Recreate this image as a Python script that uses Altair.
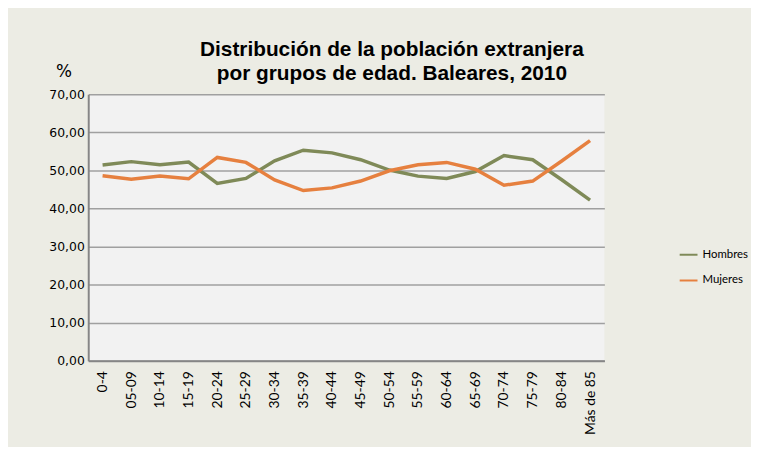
import altair as alt
import pandas as pd

grupos = ["0-4", "05-09", "10-14", "15-19", "20-24", "25-29", "30-34", "35-39",
          "40-44", "45-49", "50-54", "55-59", "60-64", "65-69", "70-74", "75-79",
          "80-84", "Más de 85"]
hombres = [51.4, 52.3, 51.5, 52.2, 46.6, 47.9, 52.5, 55.3, 54.6, 52.8, 50.1,
           48.5, 47.9, 49.7, 53.9, 52.8, 47.6, 42.2]
mujeres = [48.6, 47.7, 48.5, 47.8, 53.4, 52.1, 47.5, 44.7, 45.4, 47.2, 49.9,
           51.5, 52.1, 50.3, 46.1, 47.2, 52.4, 57.8]
series = ["Hombres", "Mujeres"]
colores = ["#7F8A58", "#E6803F"]

rows = []
for g, h, m in zip(grupos, hombres, mujeres):
    rows.append({"grupo": g, "serie": series[0], "valor": h})
    rows.append({"grupo": g, "serie": series[1], "valor": m})
df = pd.DataFrame(rows)

chart = alt.Chart(df).mark_line(strokeWidth=3.5).encode(
    x=alt.X("grupo:N", sort=grupos, title=None,
            scale=alt.Scale(type="point", padding=0.5),
            axis=alt.Axis(labelAngle=-90, ticks=False, grid=False,
                          domainColor="#868686", domainWidth=2,
                          labelFont="Lato", labelFontSize=14, labelColor="#000000",
                          labelPadding=10)),
    y=alt.Y("valor:Q", title="%",
            scale=alt.Scale(domain=[0, 70], nice=False),
            axis=alt.Axis(values=[0, 10, 20, 30, 40, 50, 60, 70], ticks=False,
                          labelExpr="replace(format(datum.value, '.2f'), '.', ',')",
                          labelFont="DejaVu Sans", labelFontSize=12.5, labelColor="#000000",
                          labelPadding=4,
                          domainColor="#868686", domainWidth=2,
                          gridColor="#A0A0A0", gridWidth=1.5,
                          titleAngle=0, titleX=-25, titleY=-23,
                          titleAlign="center", titleBaseline="middle",
                          titleFont="DejaVu Sans", titleFontSize=17,
                          titleFontWeight="normal", titleColor="#000000")),
    color=alt.Color("serie:N", scale=alt.Scale(domain=series, range=colores),
                    legend=alt.Legend(title=None, orient="none", legendX=596, legendY=152,
                                      symbolType="stroke", symbolSize=324,
                                      symbolStrokeWidth=2, labelFont="Lato",
                                      labelFontSize=11.5, labelColor="#000000",
                                      rowPadding=10, padding=0, labelOffset=4)),
).properties(
    width=521,
    height=269,
    title=alt.TitleParams(
        text=["Distribución de la población extranjera",
              "por grupos de edad. Baleares, 2010"],
        font="Liberation Sans", fontSize=21, fontWeight="bold", color="#000000",
        anchor="middle", dx=46, dy=36, offset=14, lineHeight=25),
    autosize=alt.AutoSizeParams(type="none"),
    padding={"left": 81, "top": 85, "right": 148, "bottom": 85},
    background="#ECECE4",
).configure_view(
    fill="#F2F2F2", stroke=None
)

chart.save("out.html", embed_options={"renderer": "svg", "actions": False})
